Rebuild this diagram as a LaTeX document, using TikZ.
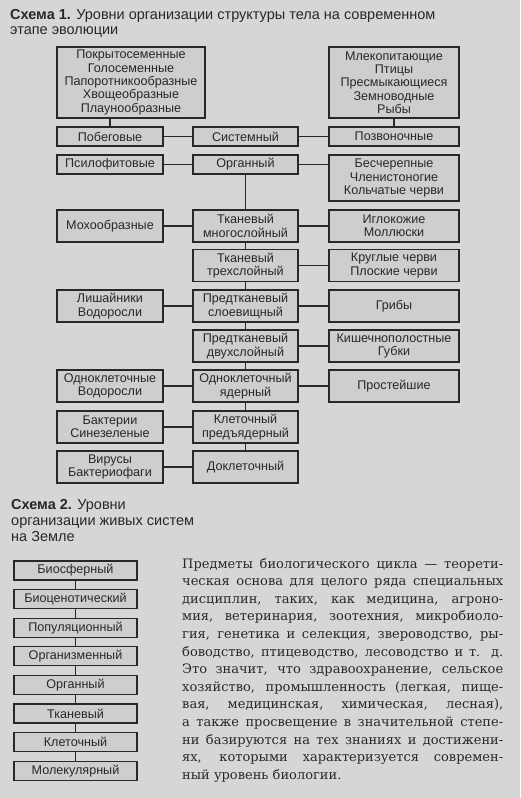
\documentclass[tikz,border=0pt]{standalone}
\usepackage{fontspec}
\setmainfont{Liberation Sans}
\newfontfamily\serifru{DejaVu Serif}
\definecolor{bg}{RGB}{214,214,214}
\definecolor{boxfill}{RGB}{206,206,206}
\definecolor{ink}{RGB}{40,40,40}
\begin{document}
\begin{tikzpicture}[x=1pt,y=-1pt,
  bx/.style={draw=ink, fill=boxfill, line width=1.1pt, inner sep=0pt, align=center, text=ink, font=\fontsize{12.6}{13.3}\selectfont},
  Lb/.style={bx, minimum width=106pt},
  Cb/.style={bx, minimum width=105pt},
  Rb/.style={bx, minimum width=130pt},
  Sb/.style={bx, minimum width=123pt, minimum height=19pt},
  h1/.style={minimum height=19pt},
  h2/.style={minimum height=32pt},
  ln/.style={draw=ink, line width=1.1pt},
  ttl/.style={anchor=base west, inner sep=0pt, text=ink, font=\fontsize{14.5}{16}\selectfont},
  pl/.style={anchor=base west, inner sep=0pt, text=ink, font=\serifru\fontsize{13}{17}\selectfont}]
\fill[bg] (0,0) rectangle (520,798);
\useasboundingbox (0,0) rectangle (520,798);

% ---- Scheme 1 titles
\node[ttl] (t1a) at (10,19) {\textbf{Схема 1.} Уровни организации структуры тела на современном};
\node[ttl] (t1b) at (10,34) {этапе эволюции};

% ---- Scheme 1 boxes
\node[bx, minimum width=148pt, minimum height=71pt] (tl) at (131,82.5)
  {Покрытосеменные\\Голосеменные\\Папоротникообразные\\Хвощеобразные\\Плаунообразные};
\node[bx, minimum width=130pt, minimum height=71pt] (tr) at (394,82.5)
  {Млекопитающие\\Птицы\\Пресмыкающиеся\\Земноводные\\Рыбы};

\node[Lb,h1] (pob) at (110,136.5) {Побеговые};
\node[Cb,h1] (sys) at (245.5,136.5) {Системный};
\node[Rb,h1] (poz) at (394,136.5) {Позвоночные};

\node[Lb,h1] (psi) at (110,164.5) {Псилофитовые};
\node[Cb,h1] (org) at (245.5,164.5) {Органный};
\node[Rb,minimum height=46pt] (bes) at (394,178) {Бесчерепные\\Членистоногие\\Кольчатые черви};

\node[Lb,h2] (mox) at (110,226) {Мохообразные};
\node[Cb,h2] (tm) at (245.5,226) {Тканевый\\многослойный};
\node[Rb,h2] (igl) at (394,226) {Иглокожие\\Моллюски};

\node[Cb,h2] (t3) at (245.5,265.5) {Тканевый\\трехслойный};
\node[Rb,h2] (kru) at (394,265.5) {Круглые черви\\Плоские черви};

\node[Lb,h2] (lis) at (110,306) {Лишайники\\Водоросли};
\node[Cb,h2] (ps) at (245.5,306) {Предтканевый\\слоевищный};
\node[Rb,h2] (gri) at (394,306) {Грибы};

\node[Cb,h2] (pd) at (245.5,346) {Предтканевый\\двухслойный};
\node[Rb,h2] (kis) at (394,346) {Кишечнополостные\\Губки};

\node[Lb,h2] (odv) at (110,386) {Одноклеточные\\Водоросли};
\node[Cb,h2] (oy) at (245.5,386) {Одноклеточный\\ядерный};
\node[Rb,h2] (pro) at (394,386) {Простейшие};

\node[Lb,h2] (bak) at (110,427) {Бактерии\\Синезеленые};
\node[Cb,h2] (kp) at (245.5,427) {Клеточный\\предъядерный};

\node[Lb,h2] (vir) at (110,467) {Вирусы\\Бактериофаги};
\node[Cb,h2] (dk) at (245.5,467) {Доклеточный};

% ---- Scheme 1 connectors
\draw[ln] (pob.north) -- (pob.north |- tl.south);
\draw[ln] (tr.south) -- (poz.north);
\draw[ln] (pob.east) -- (sys.west);
\draw[ln] (sys.east) -- (poz.west);
\draw[ln] (psi.east) -- (org.west);
\draw[ln] (org.east) -- (org.east -| bes.west);
\draw[ln] (mox.east) -- (tm.west);
\draw[ln] (tm.east) -- (igl.west);
\draw[ln] (t3.east) -- (kru.west);
\draw[ln] (lis.east) -- (ps.west);
\draw[ln] (ps.east) -- (gri.west);
\draw[ln] (pd.east) -- (kis.west);
\draw[ln] (odv.east) -- (oy.west);
\draw[ln] (oy.east) -- (pro.west);
\draw[ln] (bak.east) -- (kp.west);
\draw[ln] (vir.east) -- (dk.west);
\draw[ln] (org.south) -- (tm.north);
\draw[ln] (tm.south) -- (t3.north);
\draw[ln] (t3.south) -- (ps.north);
\draw[ln] (ps.south) -- (pd.north);
\draw[ln] (pd.south) -- (oy.north);
\draw[ln] (oy.south) -- (kp.north);
\draw[ln] (kp.south) -- (dk.north);

% ---- Scheme 2
\node[ttl] (t2a) at (11,509) {\textbf{Схема 2.} Уровни};
\node[ttl] (t2b) at (11,525) {организации живых систем};
\node[ttl] (t2c) at (11,541) {на Земле};

\node[Sb] (s1) at (75.5,570.5) {Биосферный};
\node[Sb] (s2) at (75.5,599.1) {Биоценотический};
\node[Sb] (s3) at (75.5,627.7) {Популяционный};
\node[Sb] (s4) at (75.5,656.3) {Организменный};
\node[Sb] (s5) at (75.5,684.9) {Органный};
\node[Sb] (s6) at (75.5,713.5) {Тканевый};
\node[Sb] (s7) at (75.5,742.1) {Клеточный};
\node[Sb] (s8) at (75.5,770.7) {Молекулярный};
\draw[ln] (s1.south) -- (s2.north);
\draw[ln] (s2.south) -- (s3.north);
\draw[ln] (s3.south) -- (s4.north);
\draw[ln] (s4.south) -- (s5.north);
\draw[ln] (s5.south) -- (s6.north);
\draw[ln] (s6.south) -- (s7.north);
\draw[ln] (s7.south) -- (s8.north);

% ---- Paragraph
\node[pl] (p1) at (182,568.0) {\makebox[321pt][s]{Предметы биологического цикла — теорети-}};
\node[pl] (p2) at (182,585.6) {\makebox[321pt][s]{ческая основа для целого ряда специальных}};
\node[pl] (p3) at (182,603.2) {\makebox[321pt][s]{дисциплин, таких, как медицина, агроно-}};
\node[pl] (p4) at (182,620.8) {\makebox[321pt][s]{мия, ветеринария, зоотехния, микробиоло-}};
\node[pl] (p5) at (182,638.4) {\makebox[321pt][s]{гия, генетика и селекция, звероводство, ры-}};
\node[pl] (p6) at (182,656.0) {\makebox[321pt][s]{боводство, птицеводство, лесоводство и т. д.}};
\node[pl] (p7) at (182,673.6) {\makebox[321pt][s]{Это значит, что здравоохранение, сельское}};
\node[pl] (p8) at (182,691.2) {\makebox[321pt][s]{хозяйство, промышленность (легкая, пище-}};
\node[pl] (p9) at (182,708.8) {\makebox[321pt][s]{вая, медицинская, химическая, лесная),}};
\node[pl] (p10) at (182,726.4) {\makebox[321pt][s]{а также просвещение в значительной степе-}};
\node[pl] (p11) at (182,744.0) {\makebox[321pt][s]{ни базируются на тех знаниях и достижени-}};
\node[pl] (p12) at (182,761.6) {\makebox[321pt][s]{ях, которыми характеризуется современ-}};
\node[pl] (p13) at (182,779.2) {ный уровень биологии.};
\end{tikzpicture}
\end{document}
